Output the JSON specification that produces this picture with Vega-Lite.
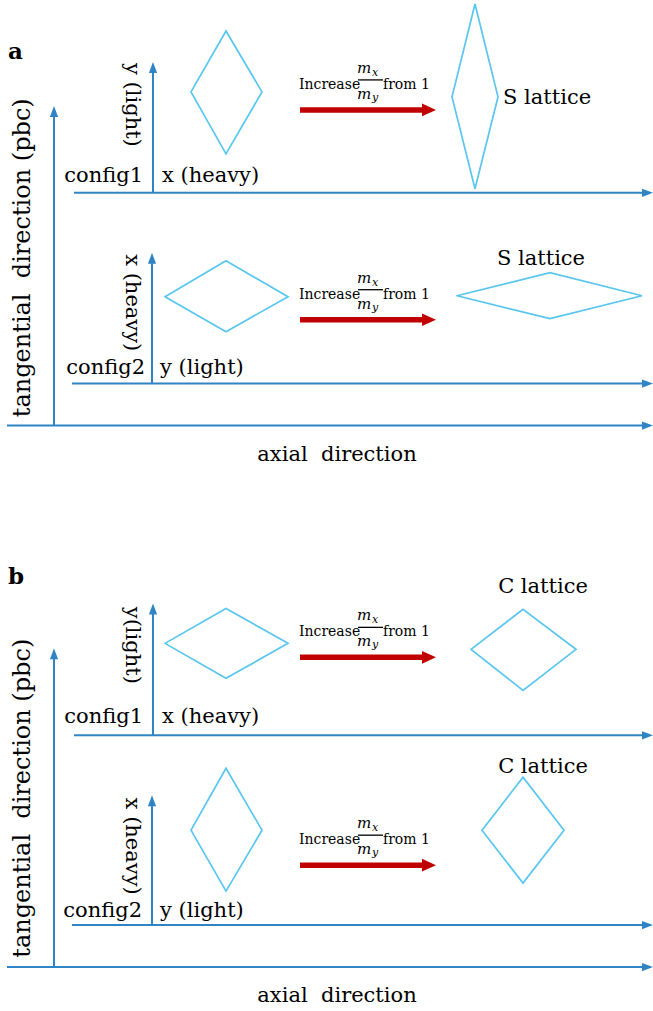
{
  "$schema": "https://vega.github.io/schema/vega-lite/v6.json",
  "width": 653,
  "height": 1011,
  "autosize": {"type": "fit", "contains": "padding"},
  "padding": 0,
  "background": "white",
  "config": {"view": {"stroke": null}, "font": "DejaVu Serif"},
  "datasets": {
    "axes": [
      {"x": 54, "y": 425, "x2": 54, "y2": 112},
      {"x": 7, "y": 425, "x2": 645, "y2": 425},
      {"x": 74, "y": 192, "x2": 645, "y2": 192},
      {"x": 153, "y": 192, "x2": 153, "y2": 68},
      {"x": 72, "y": 383, "x2": 645, "y2": 383},
      {"x": 152, "y": 383, "x2": 152, "y2": 258},
      {"x": 54, "y": 967, "x2": 54, "y2": 654},
      {"x": 7, "y": 967, "x2": 645, "y2": 967},
      {"x": 74, "y": 735, "x2": 645, "y2": 735},
      {"x": 153, "y": 735, "x2": 153, "y2": 609},
      {"x": 72, "y": 925, "x2": 645, "y2": 925},
      {"x": 152, "y": 925, "x2": 152, "y2": 801}
    ],
    "headsRight": [
      {"x": 653, "y": 425}, {"x": 653, "y": 192}, {"x": 653, "y": 383},
      {"x": 653, "y": 967}, {"x": 653, "y": 735}, {"x": 653, "y": 925}
    ],
    "headsUp": [
      {"x": 54, "y": 105}, {"x": 153, "y": 61}, {"x": 152, "y": 252},
      {"x": 54, "y": 648}, {"x": 153, "y": 603}, {"x": 152, "y": 795}
    ],
    "diamonds": [
      {"id": 1, "k": 0, "x": 191, "y": 91}, {"id": 1, "k": 1, "x": 226, "y": 30}, {"id": 1, "k": 2, "x": 262, "y": 91}, {"id": 1, "k": 3, "x": 226, "y": 153}, {"id": 1, "k": 4, "x": 191, "y": 91},
      {"id": 2, "k": 0, "x": 452, "y": 96}, {"id": 2, "k": 1, "x": 475, "y": 3}, {"id": 2, "k": 2, "x": 498, "y": 96}, {"id": 2, "k": 3, "x": 475, "y": 188}, {"id": 2, "k": 4, "x": 452, "y": 96},
      {"id": 3, "k": 0, "x": 165, "y": 296}, {"id": 3, "k": 1, "x": 226, "y": 260}, {"id": 3, "k": 2, "x": 288, "y": 296}, {"id": 3, "k": 3, "x": 226, "y": 331}, {"id": 3, "k": 4, "x": 165, "y": 296},
      {"id": 4, "k": 0, "x": 457, "y": 295}, {"id": 4, "k": 1, "x": 550, "y": 272}, {"id": 4, "k": 2, "x": 642, "y": 295}, {"id": 4, "k": 3, "x": 550, "y": 318}, {"id": 4, "k": 4, "x": 457, "y": 295},
      {"id": 5, "k": 0, "x": 165, "y": 643}, {"id": 5, "k": 1, "x": 226, "y": 608}, {"id": 5, "k": 2, "x": 288, "y": 643}, {"id": 5, "k": 3, "x": 226, "y": 678}, {"id": 5, "k": 4, "x": 165, "y": 643},
      {"id": 6, "k": 0, "x": 471, "y": 649}, {"id": 6, "k": 1, "x": 523, "y": 609}, {"id": 6, "k": 2, "x": 576, "y": 649}, {"id": 6, "k": 3, "x": 523, "y": 690}, {"id": 6, "k": 4, "x": 471, "y": 649},
      {"id": 7, "k": 0, "x": 191, "y": 830}, {"id": 7, "k": 1, "x": 226, "y": 768}, {"id": 7, "k": 2, "x": 262, "y": 830}, {"id": 7, "k": 3, "x": 226, "y": 891}, {"id": 7, "k": 4, "x": 191, "y": 830},
      {"id": 8, "k": 0, "x": 482, "y": 830}, {"id": 8, "k": 1, "x": 523, "y": 777}, {"id": 8, "k": 2, "x": 564, "y": 830}, {"id": 8, "k": 3, "x": 523, "y": 883}, {"id": 8, "k": 4, "x": 482, "y": 830}
    ],
    "increase": [
      {"x": 299, "y": 88}, {"x": 299, "y": 298}, {"x": 299, "y": 636}, {"x": 299, "y": 844}
    ],
    "bigH": [
      {"x": 337, "y": 460, "t": "axial\u00a0\u00a0direction"},
      {"x": 337, "y": 1002, "t": "axial\u00a0\u00a0direction"}
    ],
    "bigV": [
      {"x": 30, "y": 257, "t": "tangential\u00a0\u00a0direction (pbc)"},
      {"x": 30, "y": 798, "t": "tangential\u00a0\u00a0direction (pbc)"}
    ],
    "labLeft": [
      {"x": 162, "y": 181, "t": "x (heavy)"},
      {"x": 160, "y": 373, "t": "y (light)"},
      {"x": 162, "y": 723, "t": "x (heavy)"},
      {"x": 160, "y": 917, "t": "y (light)"},
      {"x": 503, "y": 103, "t": "S lattice"}
    ],
    "labRight": [
      {"x": 143, "y": 181, "t": "config1"},
      {"x": 145, "y": 373, "t": "config2"},
      {"x": 143, "y": 723, "t": "config1"},
      {"x": 142, "y": 917, "t": "config2"}
    ],
    "labCenter": [
      {"x": 541, "y": 264, "t": "S lattice"},
      {"x": 543, "y": 593, "t": "C lattice"},
      {"x": 543, "y": 773, "t": "C lattice"}
    ],
    "labRot": [
      {"x": 126, "y": 104, "t": "y (light)"},
      {"x": 126, "y": 302, "t": "x (heavy)"},
      {"x": 126, "y": 645, "t": "y(light)"},
      {"x": 126, "y": 846, "t": "x (heavy)"}
    ],
    "letters": [
      {"x": 8, "y": 58, "t": "a"},
      {"x": 8, "y": 584, "t": "b"}
    ]
  },
  "layer": [
    {
      "data": {"name": "axes"},
      "mark": {"type": "rule", "color": "#2F84C6", "strokeWidth": 2},
      "encoding": {
        "x": {"field": "x", "type": "quantitative", "scale": {"domain": [0, 653], "nice": false, "zero": false}, "axis": null},
        "y": {"field": "y", "type": "quantitative", "scale": {"domain": [0, 1011], "nice": false, "zero": false, "reverse": true}, "axis": null},
        "x2": {"field": "x2"},
        "y2": {"field": "y2"}
      }
    },
    {
      "data": {"name": "headsRight"},
      "mark": {"type": "point", "shape": "M0,0L-2,-0.75L-2,0.75Z", "size": 121, "filled": true, "color": "#2F84C6", "opacity": 1},
      "encoding": {
        "x": {"field": "x", "type": "quantitative"},
        "y": {"field": "y", "type": "quantitative"}
      }
    },
    {
      "data": {"name": "headsUp"},
      "mark": {"type": "point", "shape": "M0,0L-0.75,2L0.75,2Z", "size": 121, "filled": true, "color": "#2F84C6", "opacity": 1},
      "encoding": {
        "x": {"field": "x", "type": "quantitative"},
        "y": {"field": "y", "type": "quantitative"}
      }
    },
    {
      "data": {"name": "diamonds"},
      "mark": {"type": "line", "color": "#58C6F0", "strokeWidth": 1.7, "strokeJoin": "miter", "strokeCap": "round"},
      "encoding": {
        "x": {"field": "x", "type": "quantitative"},
        "y": {"field": "y", "type": "quantitative"},
        "detail": {"field": "id"},
        "order": {"field": "k"}
      }
    },
    {
      "data": {"name": "increase"},
      "mark": {"type": "rule", "color": "#C00000", "strokeWidth": 5.5, "xOffset": 1, "x2Offset": 128, "yOffset": 21},
      "encoding": {
        "x": {"field": "x", "type": "quantitative"},
        "x2": {"field": "x"},
        "y": {"field": "y", "type": "quantitative"}
      }
    },
    {
      "data": {"name": "increase"},
      "mark": {"type": "point", "shape": "M0,0L-2,-0.9L-2,0.9Z", "size": 196, "filled": true, "color": "#C00000", "opacity": 1, "xOffset": 137, "yOffset": 21},
      "encoding": {
        "x": {"field": "x", "type": "quantitative"},
        "y": {"field": "y", "type": "quantitative"}
      }
    },
    {
      "data": {"name": "increase"},
      "mark": {"type": "text", "text": "Increase", "fontSize": 14, "align": "left", "baseline": "alphabetic", "color": "black"},
      "encoding": {
        "x": {"field": "x", "type": "quantitative"},
        "y": {"field": "y", "type": "quantitative"}
      }
    },
    {
      "data": {"name": "increase"},
      "mark": {"type": "text", "text": "from 1", "fontSize": 14, "align": "left", "baseline": "alphabetic", "color": "black", "xOffset": 84},
      "encoding": {
        "x": {"field": "x", "type": "quantitative"},
        "y": {"field": "y", "type": "quantitative"}
      }
    },
    {
      "data": {"name": "increase"},
      "mark": {"type": "rule", "color": "black", "strokeWidth": 1.3, "xOffset": 59, "x2Offset": 84, "yOffset": -9},
      "encoding": {
        "x": {"field": "x", "type": "quantitative"},
        "x2": {"field": "x"},
        "y": {"field": "y", "type": "quantitative"}
      }
    },
    {
      "data": {"name": "increase"},
      "mark": {"type": "text", "text": "m", "fontSize": 15, "fontStyle": "italic", "align": "left", "baseline": "alphabetic", "color": "black", "xOffset": 58, "yOffset": -16},
      "encoding": {
        "x": {"field": "x", "type": "quantitative"},
        "y": {"field": "y", "type": "quantitative"}
      }
    },
    {
      "data": {"name": "increase"},
      "mark": {"type": "text", "text": "x", "fontSize": 11, "fontStyle": "italic", "align": "left", "baseline": "alphabetic", "color": "black", "xOffset": 73, "yOffset": -13},
      "encoding": {
        "x": {"field": "x", "type": "quantitative"},
        "y": {"field": "y", "type": "quantitative"}
      }
    },
    {
      "data": {"name": "increase"},
      "mark": {"type": "text", "text": "m", "fontSize": 15, "fontStyle": "italic", "align": "left", "baseline": "alphabetic", "color": "black", "xOffset": 58, "yOffset": 10},
      "encoding": {
        "x": {"field": "x", "type": "quantitative"},
        "y": {"field": "y", "type": "quantitative"}
      }
    },
    {
      "data": {"name": "increase"},
      "mark": {"type": "text", "text": "y", "fontSize": 11, "fontStyle": "italic", "align": "left", "baseline": "alphabetic", "color": "black", "xOffset": 73, "yOffset": 12},
      "encoding": {
        "x": {"field": "x", "type": "quantitative"},
        "y": {"field": "y", "type": "quantitative"}
      }
    },
    {
      "data": {"name": "bigH"},
      "mark": {"type": "text", "fontSize": 21, "align": "center", "baseline": "alphabetic", "color": "black"},
      "encoding": {
        "x": {"field": "x", "type": "quantitative"},
        "y": {"field": "y", "type": "quantitative"},
        "text": {"field": "t"}
      }
    },
    {
      "data": {"name": "bigV"},
      "mark": {"type": "text", "fontSize": 24, "align": "center", "baseline": "alphabetic", "angle": 270, "color": "black"},
      "encoding": {
        "x": {"field": "x", "type": "quantitative"},
        "y": {"field": "y", "type": "quantitative"},
        "text": {"field": "t"}
      }
    },
    {
      "data": {"name": "labLeft"},
      "mark": {"type": "text", "fontSize": 21, "align": "left", "baseline": "alphabetic", "color": "black"},
      "encoding": {
        "x": {"field": "x", "type": "quantitative"},
        "y": {"field": "y", "type": "quantitative"},
        "text": {"field": "t"}
      }
    },
    {
      "data": {"name": "labRight"},
      "mark": {"type": "text", "fontSize": 21, "align": "right", "baseline": "alphabetic", "color": "black"},
      "encoding": {
        "x": {"field": "x", "type": "quantitative"},
        "y": {"field": "y", "type": "quantitative"},
        "text": {"field": "t"}
      }
    },
    {
      "data": {"name": "labCenter"},
      "mark": {"type": "text", "fontSize": 21, "align": "center", "baseline": "alphabetic", "color": "black"},
      "encoding": {
        "x": {"field": "x", "type": "quantitative"},
        "y": {"field": "y", "type": "quantitative"},
        "text": {"field": "t"}
      }
    },
    {
      "data": {"name": "labRot"},
      "mark": {"type": "text", "fontSize": 21, "align": "center", "baseline": "alphabetic", "angle": 90, "color": "black"},
      "encoding": {
        "x": {"field": "x", "type": "quantitative"},
        "y": {"field": "y", "type": "quantitative"},
        "text": {"field": "t"}
      }
    },
    {
      "data": {"name": "letters"},
      "mark": {"type": "text", "fontSize": 23, "fontWeight": "bold", "align": "left", "baseline": "alphabetic", "color": "black"},
      "encoding": {
        "x": {"field": "x", "type": "quantitative"},
        "y": {"field": "y", "type": "quantitative"},
        "text": {"field": "t"}
      }
    }
  ]
}
